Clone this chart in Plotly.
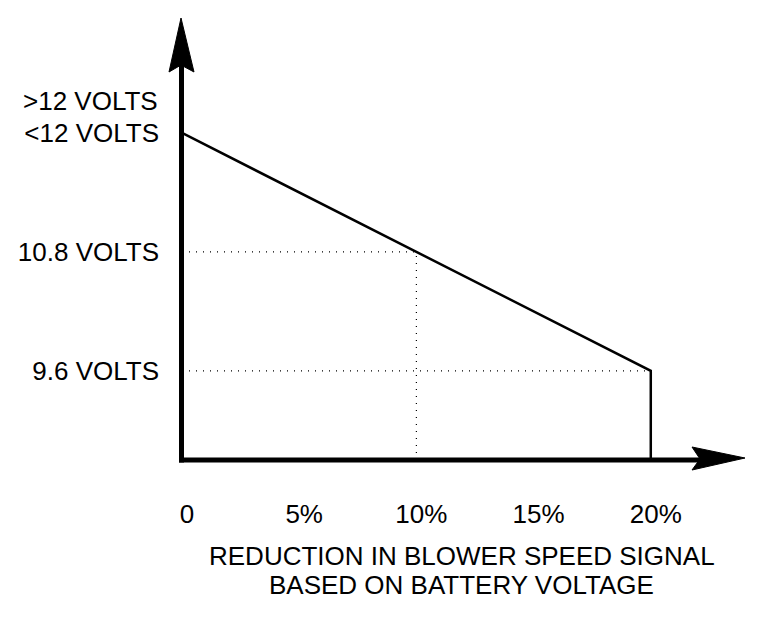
import plotly.graph_objects as go

# ---- data ----
x_pct = [0, 20]                 # reduction in blower speed signal (%)
volts = [12.0, 9.6]             # battery voltage
x_tickvals = [0, 5, 10, 15, 20]
x_ticktext = ["0", "5%", "10%", "15%", "20%"]
y_tickvals = [12.0, 10.8, 9.6]
y_ticktext = ["&lt;12 VOLTS", "10.8 VOLTS", "9.6 VOLTS"]
upper_label = "&gt;12 VOLTS"
grid_h_vals = [10.8, 9.6]
grid_h_ends = [10, 20]
grid_v_val = 10
x_title_lines = ["REDUCTION IN BLOWER SPEED SIGNAL", "BASED ON BATTERY VOLTAGE"]

# ---- layout geometry (page body has an 8px default margin) ----
W, H = 760, 628
ML, MT = 172, 10
PW, PH = 565, 442
MR, MB = W - ML - PW, H - MT - PH
X_RANGE = [0, 24.02]
Y_RANGE = [8.70, 13.16]
FONT = "Liberation Sans, Arial, Helvetica, sans-serif"
FS = 26

fig = go.Figure()

# dotted reference lines
for yv, xe in zip(grid_h_vals, grid_h_ends):
    fig.add_trace(go.Scatter(x=[X_RANGE[0], xe], y=[yv, yv], mode="lines",
                             line=dict(color="black", width=1.2, dash="1px,6px"),
                             hoverinfo="skip", showlegend=False))
fig.add_trace(go.Scatter(x=[grid_v_val, grid_v_val], y=[Y_RANGE[0], grid_h_vals[0]],
                         mode="lines", line=dict(color="black", width=1.2, dash="1px,6px"),
                         hoverinfo="skip", showlegend=False))

# main curve with drop to axis at the end
fig.add_trace(go.Scatter(x=x_pct + [x_pct[-1]], y=volts + [Y_RANGE[0]], mode="lines",
                         line=dict(color="black", width=2.5),
                         hoverinfo="skip", showlegend=False))

shapes = [
    # y axis line
    dict(type="line", xref="paper", yref="paper", xsizemode="pixel", ysizemode="pixel",
         xanchor=0, yanchor=0, x0=-0.5, x1=-0.5, y0=-2.5, y1=PH - 45,
         line=dict(color="black", width=5)),
    # x axis line
    dict(type="line", xref="paper", yref="paper", xsizemode="pixel", ysizemode="pixel",
         xanchor=0, yanchor=0, x0=-3, x1=PW - 45, y0=0, y1=0,
         line=dict(color="black", width=5)),
    # y arrowhead
    dict(type="path", xref="paper", yref="paper", xsizemode="pixel", ysizemode="pixel",
         xanchor=0, yanchor=1, path="M-1,0 L-13,-54 L-1,-47 L12,-54 Z",
         fillcolor="black", line=dict(color="black", width=1)),
    # x arrowhead
    dict(type="path", xref="paper", yref="paper", xsizemode="pixel", ysizemode="pixel",
         xanchor=1, yanchor=0, path="M0,2 L-53,13 L-45,1 L-53,-10 Z",
         fillcolor="black", line=dict(color="black", width=1)),
]

annotations = [
    dict(x=0, y=y_tickvals[0], xref="x", yref="y", text=upper_label, showarrow=False,
         xanchor="right", yanchor="middle", xshift=-22, yshift=32,
         font=dict(family=FONT, size=FS, color="black")),
    dict(x=0.5, y=0, xref="paper", yref="paper", text=x_title_lines[0], showarrow=False,
         xanchor="center", yanchor="middle", xshift=-2, yshift=-96,
         font=dict(family=FONT, size=FS, color="black")),
    dict(x=0.5, y=0, xref="paper", yref="paper", text=x_title_lines[1], showarrow=False,
         xanchor="center", yanchor="middle", xshift=-2, yshift=-125,
         font=dict(family=FONT, size=FS, color="black")),
]

fig.update_layout(
    width=W, height=H,
    margin=dict(l=ML, r=MR, t=MT, b=MB, pad=0),
    paper_bgcolor="white", plot_bgcolor="white",
    font=dict(family=FONT, size=FS, color="black"),
    shapes=shapes, annotations=annotations,
    xaxis=dict(range=X_RANGE, showgrid=False, zeroline=False, showline=False,
               tickmode="array", tickvals=x_tickvals, ticktext=x_ticktext,
               ticks="", ticklabelstandoff=36, ticklabelshift=5,
               tickfont=dict(family=FONT, size=FS, color="black"), fixedrange=True),
    yaxis=dict(range=Y_RANGE, showgrid=False, zeroline=False, showline=False,
               tickmode="array", tickvals=y_tickvals, ticktext=y_ticktext,
               ticks="", ticklabelstandoff=22,
               tickfont=dict(family=FONT, size=FS, color="black"), fixedrange=True),
)

fig.write_html("out.html")
